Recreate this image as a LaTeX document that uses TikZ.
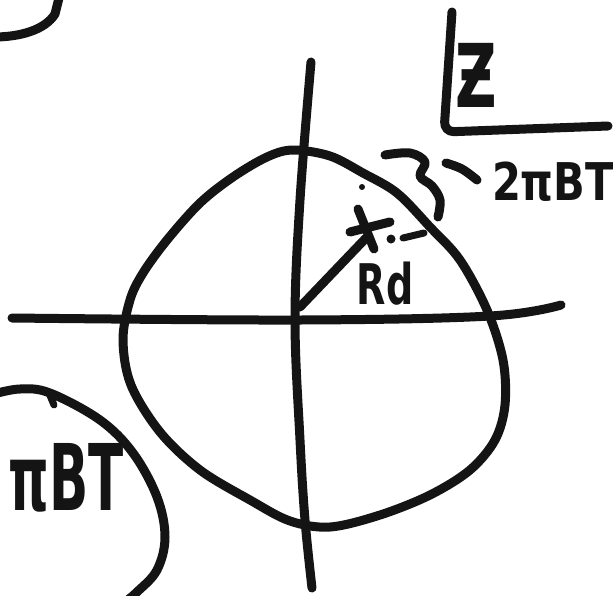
\documentclass[tikz,border=0pt]{standalone}
\usepackage{fontspec}
\newfontfamily\hand{DejaVu Sans}
\begin{document}
\begin{tikzpicture}[x=1pt,y=-1pt,
  ink/.style={line width=9pt,line cap=round,line join=round,draw=black!92},
  thin ink/.style={line width=7pt,line cap=round,line join=round,draw=black!92},
  lbl/.style={inner sep=0pt,text=black!92,font=\hand\bfseries}]
\useasboundingbox (0,0) rectangle (613,595);
\clip (0,0) rectangle (613,595);
\fill[white] (0,0) rectangle (613,595);
% top-left fragment
\draw[ink] (-6,37) .. controls (20,37) and (45,30) .. (55,14) -- (60,-6);
% bottom-left blob
\draw[ink] plot[smooth,tension=0.6] coordinates {(-6,394) (20,389) (50,393) (100,420) (133,453) (157,497) (165,537) (157,570) (137,592) (125,602)};
\draw[thin ink] (49,393) -- (54,405);
\node[lbl,anchor=east,xscale=0.56] (bl) at (124,478) {\fontsize{92}{96}\selectfont πBT};
% axes
\draw[ink] plot[smooth,tension=0.6] coordinates {(12,318) (300,320) (490,316) (561,305)};
\draw[ink] plot[smooth,tension=0.6] coordinates {(311,62) (300,200) (295,320) (300,440) (305,520) (312,588)};
% big closed curve
\draw[ink] plot[smooth cycle,tension=0.55] coordinates {(293,150) (330,156) (363,173) (397,193) (430,227) (460,260) (487,310) (503,360) (505,405) (495,440) (470,470) (430,495) (380,515) (330,527) (290,521) (250,500) (200,470) (160,432) (131,385) (123,340) (130,300) (143,273) (167,240) (200,203) (233,177) (267,157)};
% radius and star
\coordinate (o) at (300,307);
\coordinate (p) at (366,238);
\draw[ink] (o) -- (p);
\draw[ink] (358,209) -- (374,249);
\draw[ink] (350,232) -- (390,222);
\fill[black!92] (362,187) circle (3pt);
\fill[black!92] (391,239) circle (4.5pt);
\draw[thin ink] (403,238) -- (424,233);
\node[lbl,xscale=0.68] (rd) at (385,284) {\fontsize{56}{60}\selectfont Rd};
% squiggle and stroke
\draw[ink] plot[smooth,tension=0.6] coordinates {(385,155) (410,153) (425,162) (420,176) (432,186) (440,200) (438,217)};
\draw[ink] plot[smooth,tension=0.6] coordinates {(446,163) (462,169) (477,180)};
\node[lbl,xscale=0.8] (bt) at (553,182) {\fontsize{52}{56}\selectfont 2πBT};
% top right L and Z
\draw[ink,rounded corners=10pt] (452,12) -- (444,132) -- (608,126);
\node[lbl,xscale=0.65] (z) at (476,75) {\fontsize{88}{92}\selectfont Ƶ};
\end{tikzpicture}
\end{document}
